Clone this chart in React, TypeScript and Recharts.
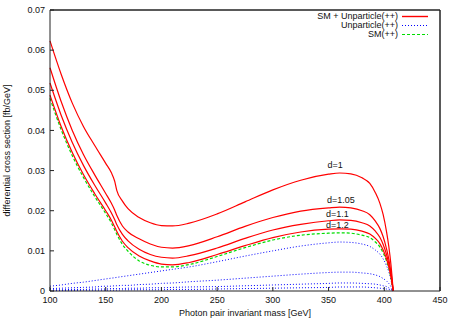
import React from 'react';
import {
  LineChart,
  Line,
  XAxis,
  YAxis,
  ReferenceDot,
  ReferenceLine,
} from 'recharts';

// photon pair invariant mass [GeV]
const masses = [100, 110, 120, 130, 140, 150, 155, 158, 160, 165, 170, 180, 190, 200, 210, 225, 250, 275, 300, 325, 350, 360, 370, 380, 387, 392, 396, 399, 402, 404, 406, 407, 408];

// SM + Unparticle(++) for d = 1, 1.05, 1.1, 1.2
const total_d1 = [0.0623, 0.054, 0.0468, 0.041, 0.0363, 0.0318, 0.0295, 0.0274, 0.025, 0.0224, 0.0205, 0.0183, 0.017, 0.0163, 0.0162, 0.0169, 0.0192, 0.0222, 0.0252, 0.0276, 0.0291, 0.0294, 0.0292, 0.0282, 0.0268, 0.0245, 0.0219, 0.019, 0.0148, 0.0112, 0.0065, 0.0035, 0];
const total_d105 = [0.0556, 0.0472, 0.04, 0.034, 0.029, 0.0243, 0.0219, 0.0202, 0.0188, 0.0162, 0.0147, 0.013, 0.0117, 0.0109, 0.0107, 0.0113, 0.0135, 0.0161, 0.0183, 0.0199, 0.0207, 0.0209, 0.0207, 0.02, 0.019, 0.0174, 0.0156, 0.0135, 0.0105, 0.008, 0.0046, 0.0025, 0];
const total_d11 = [0.0518, 0.0438, 0.037, 0.0313, 0.0264, 0.0219, 0.0195, 0.0178, 0.0165, 0.0141, 0.0125, 0.0104, 0.0091, 0.0084, 0.0082, 0.0088, 0.0107, 0.0131, 0.0152, 0.0166, 0.0175, 0.0177, 0.0176, 0.017, 0.0162, 0.0149, 0.0134, 0.0116, 0.0091, 0.0069, 0.004, 0.0022, 0];
const total_d12 = [0.0488, 0.041, 0.0345, 0.029, 0.0243, 0.02, 0.0177, 0.016, 0.0148, 0.0124, 0.0108, 0.0087, 0.0075, 0.0067, 0.0065, 0.0071, 0.0091, 0.0113, 0.0133, 0.0147, 0.0154, 0.0155, 0.0154, 0.0149, 0.0142, 0.0131, 0.0118, 0.0102, 0.008, 0.0061, 0.0035, 0.0019, 0];

// Unparticle(++) alone
const unp_d1 = [0.0012, 0.0015, 0.0019, 0.0022, 0.0026, 0.003, 0.0032, 0.0033, 0.0034, 0.0036, 0.0038, 0.0042, 0.0046, 0.005, 0.0054, 0.006, 0.0073, 0.0087, 0.01, 0.0112, 0.012, 0.0122, 0.0121, 0.0117, 0.0111, 0.0102, 0.0092, 0.008, 0.0063, 0.0048, 0.0028, 0.0015, 0];
const unp_d105 = [0.0006, 0.0007, 0.0008, 0.0009, 0.001, 0.0012, 0.0012, 0.0013, 0.0013, 0.0014, 0.0014, 0.0016, 0.0017, 0.0019, 0.002, 0.0023, 0.0027, 0.0032, 0.0037, 0.0042, 0.0046, 0.0047, 0.0047, 0.0045, 0.0043, 0.004, 0.0036, 0.0031, 0.0025, 0.0019, 0.0011, 0.0006, 0];
const unp_d11 = [0.0003, 0.0003, 0.0004, 0.0004, 0.0005, 0.0005, 0.0006, 0.0006, 0.0006, 0.0006, 0.0007, 0.0007, 0.0008, 0.0008, 0.0009, 0.001, 0.0011, 0.0013, 0.0015, 0.0017, 0.0019, 0.002, 0.002, 0.0019, 0.0018, 0.0017, 0.0015, 0.0013, 0.0011, 0.0008, 0.0005, 0.0003, 0];
const unp_d12 = [0.0001, 0.0001, 0.0001, 0.0002, 0.0002, 0.0002, 0.0002, 0.0002, 0.0002, 0.0003, 0.0003, 0.0003, 0.0003, 0.0003, 0.0004, 0.0004, 0.0005, 0.0006, 0.0007, 0.0008, 0.0009, 0.001, 0.001, 0.001, 0.0009, 0.0008, 0.0007, 0.0006, 0.0005, 0.0004, 0.0002, 0.0001, 0];

// SM(++)
const sm = [0.048, 0.0402, 0.0337, 0.0283, 0.0236, 0.0193, 0.017, 0.0153, 0.0141, 0.0116, 0.0099, 0.0075, 0.0064, 0.006, 0.006, 0.0066, 0.0086, 0.0108, 0.0127, 0.0139, 0.0144, 0.0145, 0.0144, 0.0139, 0.0133, 0.0122, 0.011, 0.0095, 0.0075, 0.0057, 0.0033, 0.0018, 0];

const xTicks = [100, 150, 200, 250, 300, 350, 400, 450];
const yTicks = [0, 0.01, 0.02, 0.03, 0.04, 0.05, 0.06, 0.07];

const dLabels = ['d=1', 'd=1.05', 'd=1.1', 'd=1.2'];
const dLabelMass = [356, 361, 358, 358];
const dLabelValue = [0.0314, 0.0227, 0.0192, 0.0164];

const legendNames = ['SM + Unparticle(++)', 'Unparticle(++)', 'SM(++)'];

const data = masses.map((m, i) => ({
  m,
  t1: total_d1[i],
  t2: total_d105[i],
  t3: total_d11[i],
  t4: total_d12[i],
  u1: unp_d1[i],
  u2: unp_d105[i],
  u3: unp_d11[i],
  u4: unp_d12[i],
  sm: sm[i],
}));

const RED = '#ff0000';
const BLUE = '#0000ff';
const GREEN = '#00dd00';
const FONT = '"Liberation Sans", Arial, sans-serif';

const legendLook = [
  { color: RED, dash: undefined, w: 1.4 },
  { color: BLUE, dash: '1 2', w: 1 },
  { color: GREEN, dash: '3 2', w: 1.2 },
];

function KeyBox() {
  return (
    <div style={{ position: 'absolute', top: 12, right: 26, fontFamily: FONT, fontSize: 9, color: '#111', lineHeight: '9.2px' }}>
      {legendNames.map((name, i) => (
        <div key={name} style={{ display: 'flex', justifyContent: 'flex-end', alignItems: 'center', height: 9.2 }}>
          <span style={{ whiteSpace: 'nowrap' }}>{name}</span>
          <svg width={30} height={9} style={{ display: 'block' }}>
            <line x1={4} x2={30} y1={4.5} y2={4.5} stroke={legendLook[i].color} strokeWidth={legendLook[i].w} strokeDasharray={legendLook[i].dash} />
          </svg>
        </div>
      ))}
    </div>
  );
}

export default function App() {
  const tickStyle = { fontFamily: FONT, fontSize: 9, fill: '#111' };
  return (
    <div style={{ position: 'absolute', left: 0, top: 0, width: 454, height: 318, background: '#fff' }}>
      <LineChart width={454} height={318} data={data} margin={{ top: 9, right: 13, bottom: 0, left: 0 }}>
        <XAxis
          dataKey="m"
          type="number"
          domain={[100, 450]}
          ticks={xTicks}
          height={27}
          stroke="#222"
          tickSize={-4}
          tickMargin={10}
          tick={tickStyle}
          label={{ value: 'Photon pair invariant mass [GeV]', position: 'insideBottom', offset: 2, style: { fontFamily: FONT, fontSize: 9, fill: '#111' } }}
        />
        <XAxis
          xAxisId="top"
          orientation="top"
          dataKey="m"
          type="number"
          domain={[100, 450]}
          ticks={xTicks}
          height={1}
          stroke="#222"
          tickSize={-4}
          tick={false}
        />
        <YAxis
          type="number"
          domain={[0, 0.07]}
          ticks={yTicks}
          width={50}
          stroke="#222"
          tickSize={-4}
          tickMargin={9}
          tick={tickStyle}
          tickFormatter={(v: number) => (v === 0 ? '0' : v.toFixed(2))}
          label={{ value: 'differential cross section [fb/GeV]', angle: -90, position: 'insideLeft', offset: 7, style: { textAnchor: 'middle', fontFamily: FONT, fontSize: 9, fill: '#111' } }}
        />
        <YAxis
          yAxisId="right"
          orientation="right"
          type="number"
          domain={[0, 0.07]}
          ticks={yTicks}
          width={1}
          stroke="#222"
          tickSize={-4}
          tick={false}
        />
        <ReferenceLine y={0.07} stroke="#222" />
        <ReferenceLine x={450} stroke="#222" />
        <Line type="monotone" dataKey="u1" stroke={BLUE} strokeWidth={1} strokeDasharray="1 2" dot={false} isAnimationActive={false} />
        <Line type="monotone" dataKey="u2" stroke={BLUE} strokeWidth={1} strokeDasharray="1 2" dot={false} isAnimationActive={false} />
        <Line type="monotone" dataKey="u3" stroke={BLUE} strokeWidth={1} strokeDasharray="1 2" dot={false} isAnimationActive={false} />
        <Line type="monotone" dataKey="u4" stroke={BLUE} strokeWidth={1} strokeDasharray="1 2" dot={false} isAnimationActive={false} />
        <Line type="monotone" dataKey="sm" stroke={GREEN} strokeWidth={1.2} strokeDasharray="3 2" dot={false} isAnimationActive={false} />
        <Line type="monotone" dataKey="t1" stroke={RED} strokeWidth={1.2} dot={false} isAnimationActive={false} />
        <Line type="monotone" dataKey="t2" stroke={RED} strokeWidth={1.2} dot={false} isAnimationActive={false} />
        <Line type="monotone" dataKey="t3" stroke={RED} strokeWidth={1.2} dot={false} isAnimationActive={false} />
        <Line type="monotone" dataKey="t4" stroke={RED} strokeWidth={1.2} dot={false} isAnimationActive={false} />
        {dLabels.map((txt, i) => (
          <ReferenceDot
            key={txt}
            x={dLabelMass[i]}
            y={dLabelValue[i]}
            r={0}
            fill="none"
            stroke="none"
            label={{ value: txt, position: 'center', style: { fontFamily: FONT, fontSize: 9, fill: '#111' } }}
          />
        ))}
      </LineChart>
      <KeyBox />
    </div>
  );
}
